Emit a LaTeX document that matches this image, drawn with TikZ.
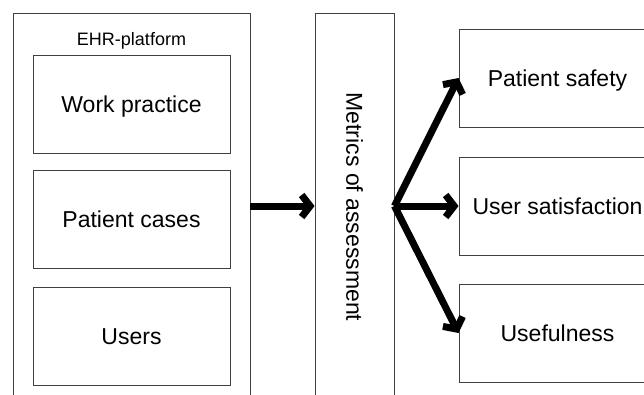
\documentclass[tikz,border=0pt]{standalone}
\usepackage{fontspec}
\setmainfont{Liberation Sans}
\usetikzlibrary{arrows.meta}
\begin{document}
\begin{tikzpicture}[x=1pt,y=-1pt,
  box/.style={draw=black!75,line width=0.9pt,minimum width=197pt,minimum height=98pt,
    inner sep=0pt,text depth=0pt,font=\fontsize{23}{27}\selectfont},
  frame/.style={draw=black!75,line width=0.9pt,inner sep=0pt},
  flow/.style={line width=7pt,-{Straight Barb[length=8.5pt,width=22pt]}}]
\clip (0,0) rectangle (644,394);
% outer frames (open at the bottom edge)
\node[frame,minimum width=237pt,minimum height=386pt] (ehr) at (131.5,206) {};
\node[frame,minimum width=79pt,minimum height=386pt] (metrics) at (354.5,206) {};
\node[font=\fontsize{18}{22}\selectfont,text depth=0pt] (ehrlabel) at (131.5,39) {EHR-platform};
\node[rotate=-90,font=\fontsize{23}{27}\selectfont] (metricslabel) at (354.5,207) {Metrics of assessment};
% platform components
\node[box] (wp) at (131.5,104) {Work practice};
\node[box] (pc) at (131.5,219) {Patient cases};
\node[box] (us) at (131.5,336.5) {Users};
% outcomes
\node[box] (ps) at (557.5,78) {Patient safety};
\node[box] (sat) at (557.5,206) {User satisfaction};
\node[box] (uf) at (557.5,333) {Usefulness};
% connectors
\draw[flow] (ehr.east) -- (metrics.west);
\draw[flow] (metrics.east) -- (ps.west);
\draw[flow] (metrics.east) -- (sat.west);
\draw[flow] (metrics.east) -- (uf.west);
\end{tikzpicture}
\end{document}
